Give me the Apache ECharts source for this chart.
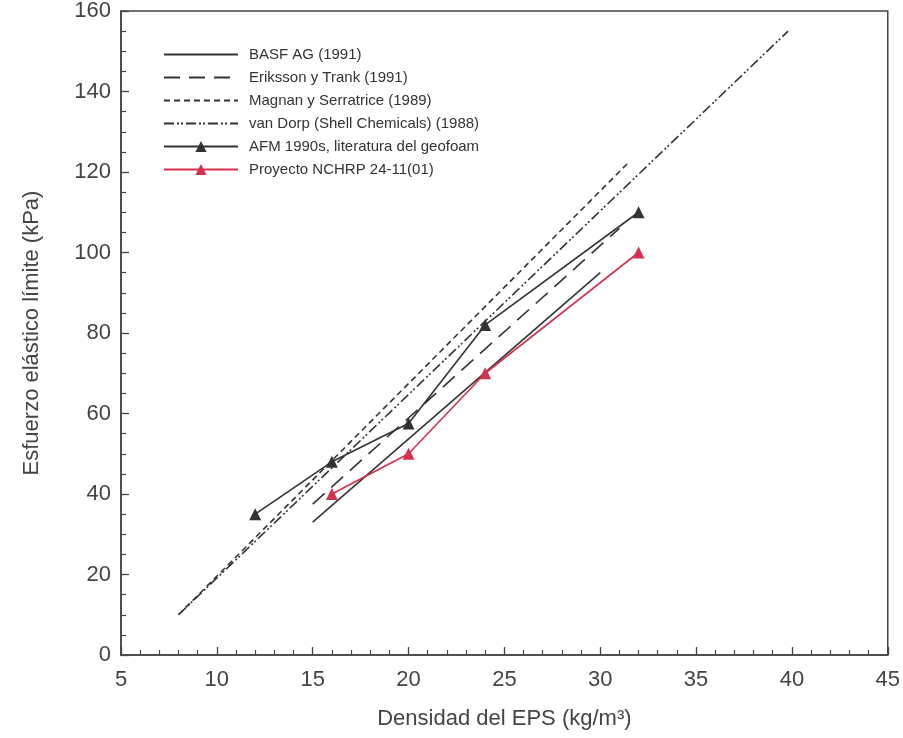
<!DOCTYPE html>
<html><head><meta charset="utf-8">
<script src="https://cdn.jsdelivr.net/npm/echarts@6/dist/echarts.min.js"></script>
<style>html,body{margin:0;padding:0;background:#fff}#c{width:903px;height:738px}</style>
</head><body><div id="c"></div>
<script>
// Series names
const seriesNames = [
  'BASF AG (1991)',
  'Eriksson y Trank (1991)',
  'Magnan y Serratrice (1989)',
  'van Dorp (Shell Chemicals) (1988)',
  'AFM 1990s, literatura del geofoam',
  'Proyecto NCHRP 24-11(01)'
];
// Data [density, stress]
const basf = [[15, 33], [30, 95]];
const eriksson = [[15, 37.5], [31, 106]];
const magnan = [[8, 10], [31.4, 122]];
const vanDorp = [[8, 10], [39.8, 155]];
const afm = [[12, 35], [16, 48], [20, 57.5], [24, 82], [32, 110]];
const nchrp = [[16, 40], [20, 50], [24, 70], [32, 100]];

const xTicks = [5, 45, 5];   // min, max, interval
const yTicks = [0, 160, 20];

const dark = '#333333';
const red = '#d6304f';
const font = 'Liberation Sans, Arial, sans-serif';

function lineSeries(name, data, type, color, extra) {
  return Object.assign({
    name: name, type: 'line', data: data,
    symbol: 'none', showSymbol: false,
    lineStyle: { color: color, width: 1.6, type: type },
    itemStyle: { color: color },
    animation: false, z: 2
  }, extra || {});
}

const legendData = seriesNames.map((n, i) => i < 4
  ? { name: n, itemStyle: { color: 'rgba(0,0,0,0)', borderWidth: 0, opacity: 0 } }
  : { name: n });

const chart = echarts.init(document.getElementById('c'), null, { renderer: 'canvas' });
chart.setOption({
  animation: false,
  backgroundColor: '#fff',
  grid: { left: 121, right: 12, top: 11, bottom: 83, show: true, borderColor: '#444', borderWidth: 1.5 },
  legend: {
    orient: 'vertical', left: 158, top: 42,
    itemWidth: 74, itemHeight: 14, itemGap: 8,
    textStyle: { fontFamily: font, fontSize: 15, color: '#333', padding: [0, 0, 0, 6] },
    data: legendData
  },
  xAxis: {
    type: 'value', min: xTicks[0], max: xTicks[1], interval: xTicks[2],
    name: 'Densidad del EPS (kg/m³)', nameLocation: 'middle', nameGap: 53,
    nameTextStyle: { fontFamily: font, fontSize: 22, color: '#444' },
    axisLine: { show: true, lineStyle: { color: '#444', width: 1.5 } },
    axisTick: { show: true, inside: true, length: 8, lineStyle: { color: '#444', width: 1.3 } },
    minorTick: { show: true, splitNumber: 5, length: 5, lineStyle: { color: '#444', width: 1.2 } },
    axisLabel: { fontFamily: font, fontSize: 22, color: '#444', margin: 14 },
    splitLine: { show: false }
  },
  yAxis: {
    type: 'value', min: yTicks[0], max: yTicks[1], interval: yTicks[2],
    name: 'Esfuerzo elástico límite (kPa)', nameLocation: 'middle', nameGap: 78,
    nameTextStyle: { fontFamily: font, fontSize: 22, color: '#444' },
    axisLine: { show: true, lineStyle: { color: '#444', width: 1.5 } },
    axisTick: { show: true, inside: true, length: 8, lineStyle: { color: '#444', width: 1.3 } },
    minorTick: { show: true, splitNumber: 4, length: 5, lineStyle: { color: '#444', width: 1.2 } },
    axisLabel: { fontFamily: font, fontSize: 22, color: '#444', margin: 10 },
    splitLine: { show: false }
  },
  series: [
    lineSeries(seriesNames[0], basf, 'solid', dark),
    lineSeries(seriesNames[1], eriksson, [16, 9], dark),
    lineSeries(seriesNames[2], magnan, [6, 4], dark),
    lineSeries(seriesNames[3], vanDorp, [10, 3, 2, 2, 2, 3], dark),
    lineSeries(seriesNames[4], afm, 'solid', dark, { symbol: 'triangle', showSymbol: true, symbolSize: 12, z: 3 }),
    lineSeries(seriesNames[5], nchrp, 'solid', red, { symbol: 'triangle', showSymbol: true, symbolSize: 12, z: 4 })
  ]
});
</script></body></html>
